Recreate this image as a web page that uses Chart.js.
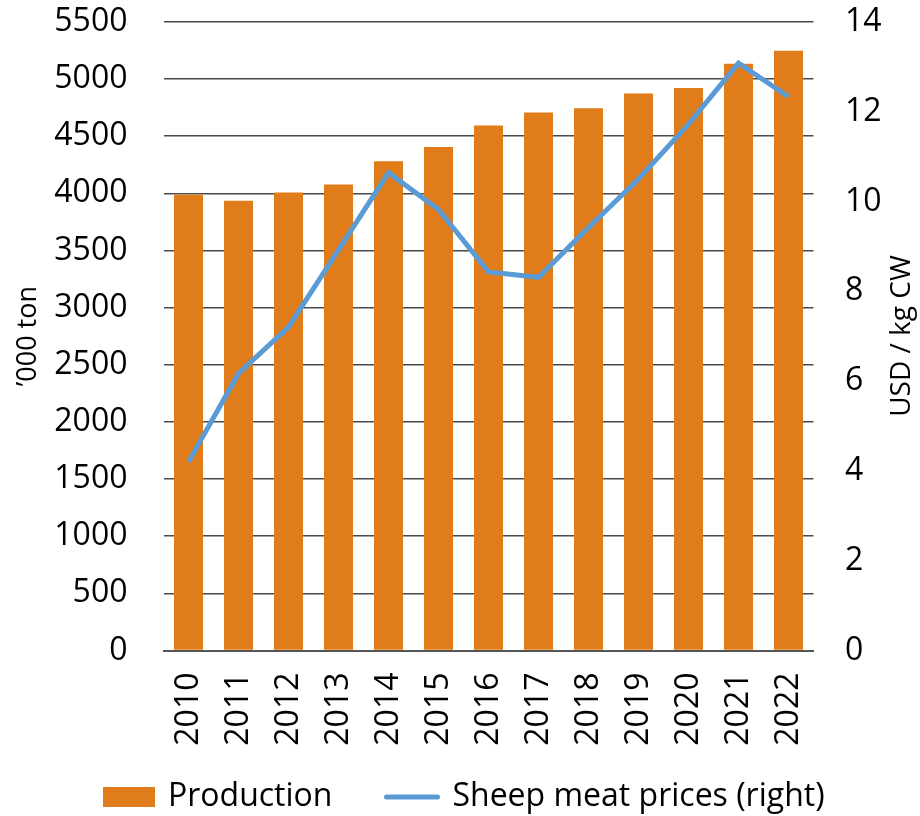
<!DOCTYPE html>
<html><head><meta charset="utf-8">
<script src="https://cdn.jsdelivr.net/npm/chart.js"></script>
<style>html,body{margin:0;padding:0;background:#fff}</style>
</head><body>
<canvas id="c" width="920" height="816"></canvas>
<script>
const years = ['2010','2011','2012','2013','2014','2015','2016','2017','2018','2019','2020','2021','2022'];
const production = [3987, 3935, 4007, 4077, 4280, 4405, 4593, 4707, 4744, 4873, 4921, 5134, 5247];
const prices = [4.20, 6.17, 7.20, 8.92, 10.64, 9.82, 8.43, 8.31, 9.42, 10.50, 11.72, 13.08, 12.33];
const leftAxis = {min: 0, max: 5500, step: 500, title: '\u2019000 ton'};
const rightAxis = {min: 0, max: 14, step: 2, title: 'USD / kg CW'};
const legendLabels = ['Production', 'Sheep meat prices (right)'];

const FONT = '"Open Sans", "Liberation Sans", sans-serif';
const barColor = '#E07D1A';
const lineColor = '#5B9BD5';

const extras = {
  id: 'extras',
  afterDraw(chart) {
    const ctx = chart.ctx;
    ctx.save();
    // right axis title, reading bottom-to-top
    ctx.font = '28px ' + FONT;
    ctx.fillStyle = '#000';
    ctx.textAlign = 'center';
    ctx.textBaseline = 'middle';
    ctx.translate(902, 336);
    ctx.rotate(-Math.PI / 2);
    ctx.fillText(rightAxis.title, 0, 0);
    ctx.restore();

    // legend
    ctx.save();
    ctx.font = '32px ' + FONT;
    ctx.textBaseline = 'middle';
    ctx.textAlign = 'left';
    const w1 = ctx.measureText(legendLabels[0]).width;
    const w2 = ctx.measureText(legendLabels[1]).width;
    const boxW = 52, lineW = 55, gap = 13, between = 52;
    const total = boxW + gap + w1 + between + lineW + gap + w2;
    let x = Math.round(464 - total / 2);
    const cy = 797;
    ctx.fillStyle = barColor;
    ctx.fillRect(x, cy - 10, boxW, 20);
    x += boxW + gap;
    ctx.fillStyle = '#000';
    ctx.fillText(legendLabels[0], x, cy);
    x += w1 + between;
    ctx.strokeStyle = lineColor;
    ctx.lineWidth = 5;
    ctx.lineCap = 'round';
    ctx.beginPath();
    ctx.moveTo(x + 2, cy);
    ctx.lineTo(x + lineW - 2, cy);
    ctx.stroke();
    x += lineW + gap;
    ctx.fillStyle = '#000';
    ctx.fillText(legendLabels[1], x, cy);
    ctx.restore();
  }
};

new Chart(document.getElementById('c'), {
  data: {
    labels: years,
    datasets: [
      {
        type: 'line',
        label: legendLabels[1],
        data: prices,
        yAxisID: 'y1',
        borderColor: lineColor,
        backgroundColor: lineColor,
        borderWidth: 5,
        pointRadius: 0,
        tension: 0,
        order: 0
      },
      {
        type: 'bar',
        label: legendLabels[0],
        data: production,
        yAxisID: 'y',
        backgroundColor: barColor,
        borderWidth: 0,
        barPercentage: 0.58,
        categoryPercentage: 1.0,
        order: 1
      }
    ]
  },
  options: {
    responsive: false,
    animation: false,
    layout: {padding: {top: 21.8, bottom: 60, left: 0, right: 0}},
    plugins: {legend: {display: false}, tooltip: {enabled: false}},
    scales: {
      x: {
        grid: {display: false, drawTicks: false},
        border: {display: true, color: '#555', width: 2},
        ticks: {
          color: '#000', font: {family: FONT, size: 32},
          minRotation: 90, maxRotation: 90, padding: 22, autoSkip: false
        },
        afterFit(s) { s.height = 105.5; s.paddingLeft = 0; s.paddingRight = 0; }
      },
      y: {
        position: 'left',
        min: leftAxis.min, max: leftAxis.max,
        grid: {color: '#4a4a4a', lineWidth: 1.4, drawTicks: false},
        border: {display: false},
        ticks: {stepSize: leftAxis.step, color: '#000', font: {family: FONT, size: 32}, padding: 36,
          callback: (v) => String(v)},
        title: {display: true, text: leftAxis.title, color: '#000', font: {family: FONT, size: 27}, padding: {top: 12, bottom: 0}},
        afterFit(s) { s.width = 163.5; s.paddingTop = 0; s.paddingBottom = 0; }
      },
      y1: {
        position: 'right',
        min: rightAxis.min, max: rightAxis.max,
        grid: {display: false, drawTicks: false},
        border: {display: false},
        ticks: {stepSize: rightAxis.step, color: '#000', font: {family: FONT, size: 32}, padding: 31.5,
          callback: (v) => String(v)},
        afterFit(s) { s.width = 106.5; s.paddingTop = 0; s.paddingBottom = 0; }
      }
    }
  },
  plugins: [extras]
});
</script>
</body></html>
